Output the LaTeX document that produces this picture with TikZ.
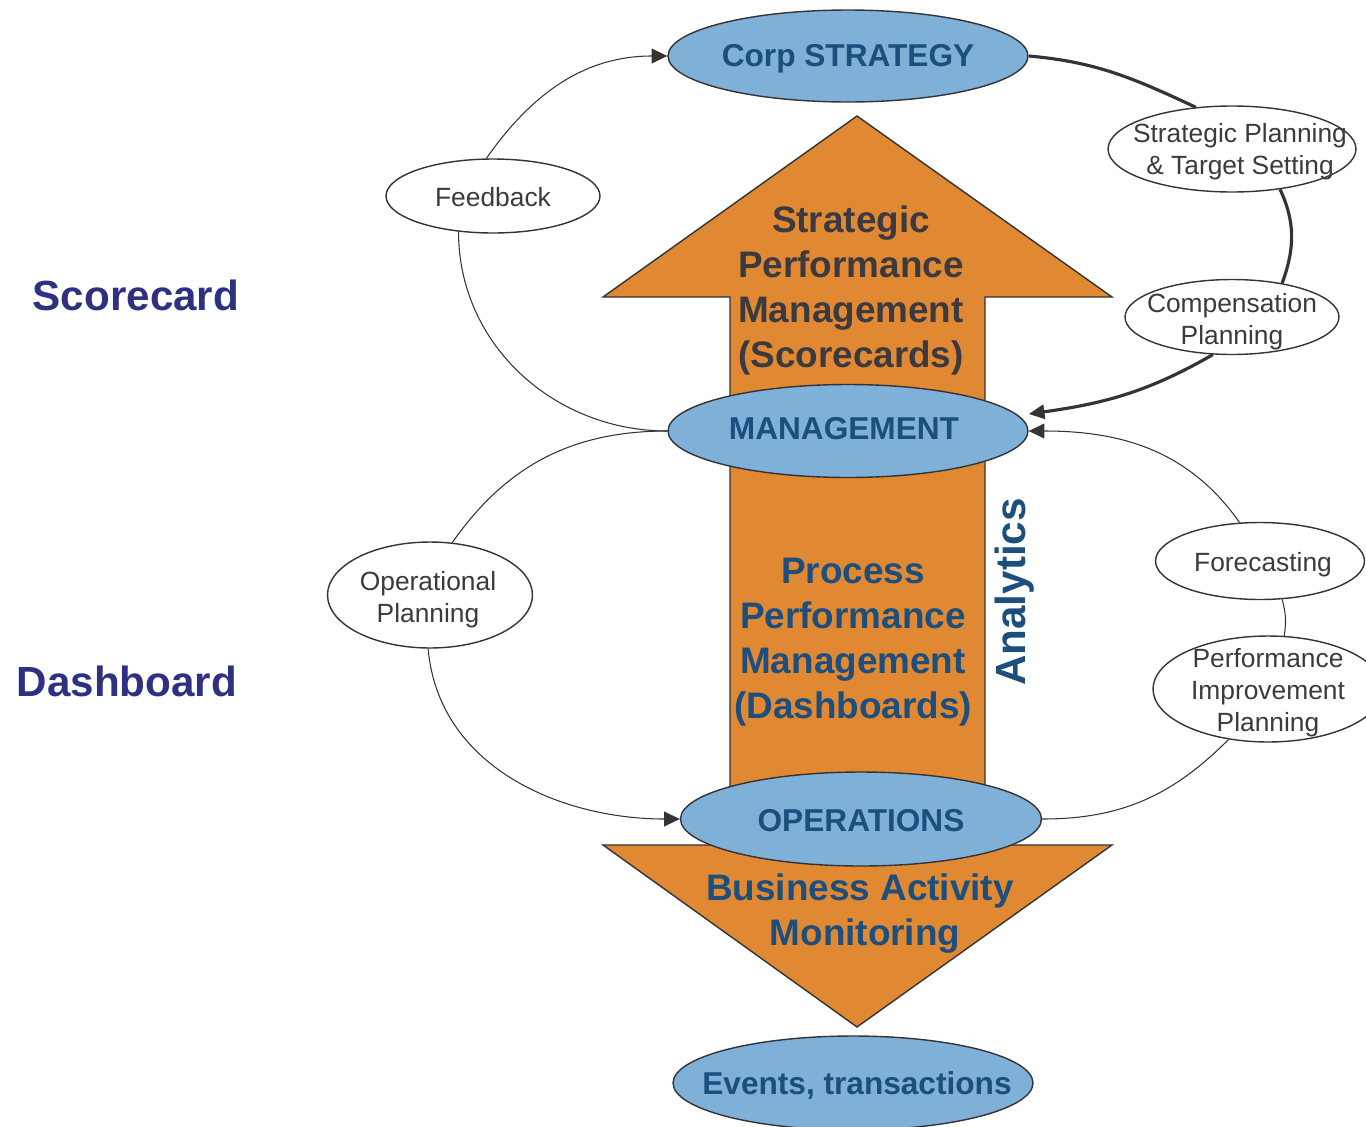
\documentclass[tikz,border=0pt]{standalone}
\usepackage{fontspec}
\setmainfont{Liberation Sans}
\usetikzlibrary{shapes.geometric,arrows.meta}
\definecolor{orangefill}{RGB}{224,136,50}
\definecolor{bluefill}{RGB}{126,176,216}
\definecolor{bluetext}{RGB}{28,78,126}
\definecolor{indigotext}{RGB}{46,49,130}
\definecolor{darkline}{RGB}{51,51,56}
\definecolor{graytext}{RGB}{58,58,64}
\begin{document}
\begin{tikzpicture}[x=0.02cm,y=0.02cm,
  bigoval/.style={ellipse, draw=darkline, line width=0.8pt, fill=bluefill, inner sep=0pt, minimum width=7.2cm, minimum height=1.86cm},
  bigtext/.style={font=\fontsize{18}{21}\selectfont\bfseries, text=bluetext},
  smalloval/.style={ellipse, draw=darkline, line width=0.8pt, fill=white, inner sep=0pt},
  smalltext/.style={font=\fontsize{15}{18.3}\selectfont, text=graytext, align=center},
  arrowtext/.style={font=\fontsize{21}{25.6}\selectfont\bfseries, align=center},
  sidetext/.style={font=\fontsize{24}{28}\selectfont\bfseries},
  shapeline/.style={draw=darkline, line width=0.8pt, fill=orangefill, line join=miter},
  thinlink/.style={draw=darkline, line width=0.6pt},
  thicklink/.style={draw=darkline, line width=1.8pt},
  thinhead/.style={-{Triangle[length=9pt,width=8.5pt]}},
  thickhead/.style={-{Triangle[length=9pt,width=8pt]}}
]
\useasboundingbox (0,0) rectangle (1366,-1126);

% orange arrows
\path[shapeline] (730,-800) -- (730,-297) -- (603,-297) -- (857,-116) -- (1112,-297) -- (985,-297) -- (985,-800);
\path[shapeline] (603,-845) -- (1112,-845) -- (857,-1027) -- cycle;

% arrow texts
\node[arrowtext, text=graytext] (spm) at (851,-290) {Strategic\\Performance\\Management\\(Scorecards)};
\node[arrowtext, text=bluetext] (ppm) at (853,-642) {Process\\Performance\\Management\\(Dashboards)};
\node[arrowtext, text=bluetext] (bam) at (860,-914) {Business Activity\\\hspace*{0.2cm}Monitoring};
\node[sidetext, text=bluetext, rotate=90] (an) at (1015,-592) {Analytics};

% side labels
\node[sidetext, text=indigotext] (sc) at (136,-295) {Scorecard};
\node[sidetext, text=indigotext] (db) at (127,-681) {Dashboard};

% big ovals
\node[bigoval, minimum height=1.84cm,
  label={[bigtext, name=corptext, yshift=-0.06cm]center:Corp STRATEGY}] (corp) at (848,-56) {};
\node[bigoval,
  label={[bigtext, name=mgmttext, xshift=-0.08cm, yshift=0.04cm]center:MANAGEMENT}] (mgmt) at (848,-431) {};
\node[bigoval, minimum width=7.22cm, minimum height=1.88cm,
  label={[bigtext, name=opsntext, yshift=-0.04cm]center:OPERATIONS}] (opsn) at (861,-819) {};
\node[bigoval, minimum height=1.88cm,
  label={[bigtext, name=evtext, xshift=0.08cm, yshift=-0.04cm]center:Events, transactions}] (ev) at (853,-1083) {};

% small ovals
\node[smalloval, minimum width=4.28cm, minimum height=1.48cm,
  label={[smalltext, name=fbtext, yshift=-0.02cm]center:Feedback}] (fb) at (493,-196) {};
\node[smalloval, minimum width=4.96cm, minimum height=1.72cm,
  label={[smalltext, name=sptext, xshift=0.16cm, yshift=-0.06cm]center:Strategic Planning\\\& Target Setting}] (sp) at (1232,-149) {};
\node[smalloval, minimum width=4.28cm, minimum height=1.5cm,
  label={[smalltext, name=comptext, yshift=-0.1cm]center:Compensation\\Planning}] (comp) at (1232,-317) {};
\node[smalloval, minimum width=4.1cm, minimum height=2.12cm,
  label={[smalltext, name=optext, xshift=-0.04cm, yshift=-0.1cm]center:Operational\\Planning}] (op) at (430,-595) {};
\node[smalloval, minimum width=4.18cm, minimum height=1.54cm,
  label={[smalltext, name=fctext, xshift=0.06cm, yshift=-0.08cm]center:Forecasting}] (fc) at (1260,-561) {};
\node[smalloval, minimum width=4.6cm, minimum height=2.12cm,
  label={[smalltext, name=piptext, yshift=-0.08cm]center:Performance\\Improvement\\Planning}] (pip) at (1268,-689) {};

% thick cycle on the right
\draw[thicklink] (corp.east) to[out=-5, in=155] (sp.131);
\draw[thicklink] (sp.-40) to[out=-65, in=70] (comp.34);
\draw[thicklink, thickhead] (comp.-117) to[out=-150, in=8] ([yshift=0.34cm]mgmt.east);

% thin connectors
\draw[thinlink, thinhead] (fb.100) to[out=55, in=180] (corp.west);
\draw[thinlink] (fb.-134) to[out=-90, in=180] (mgmt.west);
\draw[thinlink] (mgmt.west) to[out=180, in=55] (op.67);
\draw[thinlink, thinhead] (op.-92) to[out=-85, in=180] (opsn.west);
\draw[thinlink, thinhead] (fc.118) to[out=125, in=0] (mgmt.east);
\draw[thinlink] (fc.-60) to[bend left=12] (pip.73);
\draw[thinlink] (pip.-128) to[out=-135, in=0] (opsn.east);
\end{tikzpicture}
\end{document}
